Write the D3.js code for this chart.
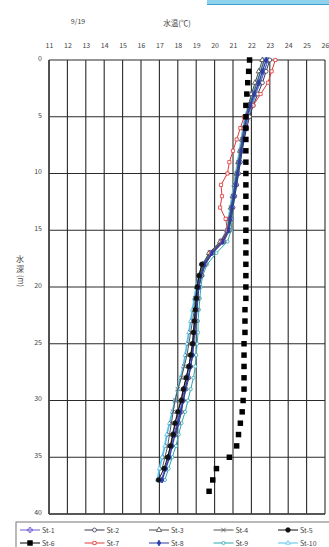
<!DOCTYPE html>
<html><head><meta charset="utf-8">
<script src="https://cdn.jsdelivr.net/npm/d3@7"></script>
<style>
html,body{margin:0;padding:0;background:#fff;}
svg{display:block;font-family:"Noto Sans CJK JP","Noto Sans",sans-serif;}
</style></head>
<body>
<svg id="c" width="329" height="547"></svg>
<script>
// ---- data ----
const xTicks = [11,12,13,14,15,16,17,18,19,20,21,22,23,24,25,26];
const yTicks = [0,5,10,15,20,25,30,35,40];
const seriesNames = ["St-1","St-2","St-3","St-4","St-5","St-6","St-7","St-8","St-9","St-10"];

const d_0_37 = [0,1,2,3,4,5,6,7,8,9,10,11,12,13,14,15,16,17,18,19,20,21,22,23,24,25,26,27,28,29,30,31,32,33,34,35,36,37];
const d_0_38 = [0,1,2,3,4,5,6,7,8,9,10,11,12,13,14,15,16,17,18,19,20,21,22,23,24,25,26,27,28,29,30,31,32,33,34,35,36,37,38];
const d_0_33 = [0,1,2,3,4,5,6,7,8,9,10,11,12,13,14,15,16,17,18,19,20,21,22,23,24,25,26,27,28,29,30,31,32,33];
const d_0_35 = [0,1,2,3,4,5,6,7,8,9,10,11,12,13,14,15,16,17,18,19,20,21,22,23,24,25,26,27,28,29,30,31,32,33,34,35];
const d_0_36 = [0,1,2,3,4,5,6,7,8,9,10,11,12,13,14,15,16,17,18,19,20,21,22,23,24,25,26,27,28,29,30,31,32,33,34,35,36];
const d_18_37 = [18,19,20,21,22,23,24,25,26,27,28,29,30,31,32,33,34,35,36,37];
const d_0_17 = [0,1,2,3,4,5,6,7,8,9,10,11,12,13,14,15,16,17];

const st1 = [22.9,22.7,22.5,22.2,22.0,21.8,21.7,21.6,21.45,21.35,21.25,21.15,21.05,20.95,20.85,20.75,20.4,19.8,19.45,19.25,19.1,19.05,19.0,18.95,18.9,18.85,18.75,18.6,18.5,18.35,18.25,18.1,17.95,17.8,17.65,17.5,17.3,17.1];
const st2 = [23.0,22.8,22.6,22.35,22.1,21.9,21.75,21.6,21.5,21.4,21.3,21.2,21.1,21.0,20.9,20.8,20.5,19.9,19.5,19.3,19.15,19.1,19.05,19.0,18.9,18.85,18.8,18.7,18.6,18.45,18.3,18.2,18.05,17.9];
const st3 = [22.6,22.4,22.2,22.0,21.85,21.7,21.6,21.5,21.4,21.3,21.2,21.1,21.0,20.9,20.8,20.7,20.3,19.7,19.35,19.15,19.05,19.0,18.95,18.9,18.85,18.8,18.7,18.6,18.45,18.3,18.15,18.0,17.85,17.7,17.6,17.45];
const st4 = [22.7,22.5,22.3,22.1,21.9,21.75,21.6,21.5,21.4,21.3,21.2,21.1,21.0,20.9,20.8,20.7,20.35,19.75,19.4,19.2,19.05,18.95,18.9,18.8,18.7,18.6,18.5,18.35,18.2,18.0,17.85,17.75,17.65,17.55,17.45,17.3,17.15];
const st5 = [19.3,19.15,19.05,19.0,18.95,18.9,18.85,18.8,18.7,18.6,18.45,18.3,18.2,18.0,17.85,17.75,17.6,17.45,17.25,16.95];
const st6 = [21.9,21.85,21.8,21.75,21.7,21.7,21.7,21.7,21.7,21.7,21.7,21.7,21.7,21.7,21.7,21.7,21.7,21.7,21.7,21.7,21.7,21.7,21.65,21.65,21.65,21.6,21.6,21.6,21.6,21.6,21.55,21.5,21.4,21.3,21.2,20.8,20.1,19.9,19.7];
const st7 = [23.3,23.1,22.9,22.5,22.1,21.6,21.4,21.2,21.0,20.8,20.7,20.35,20.4,20.3,20.6,20.7,20.4,19.8];
const st8 = [22.8,22.6,22.4,22.15,21.95,21.75,21.65,21.55,21.45,21.35,21.25,21.15,21.05,20.95,20.85,20.75,20.45,19.85,19.45,19.25,19.15,19.05,19.0,18.95,18.9,18.85,18.8,18.7,18.55,18.4,18.3,18.15,18.0,17.85,17.7,17.55,17.35,17.15];
const st9 = [22.9,22.7,22.45,22.25,22.05,21.85,21.7,21.6,21.5,21.4,21.3,21.2,21.1,21.0,20.95,20.9,20.7,20.1,19.6,19.35,19.25,19.2,19.15,19.1,19.1,19.05,19.0,18.95,18.85,18.7,18.55,18.4,18.2,18.05,17.9,17.7,17.5,17.3];
const st10 = [22.7,22.5,22.3,22.05,21.85,21.65,21.55,21.45,21.35,21.25,21.15,21.05,20.95,20.85,20.75,20.65,20.35,19.75,19.35,19.15,19.0,18.9,18.8,18.7,18.6,18.5,18.4,18.3,18.15,18.0,17.85,17.7,17.55,17.4,17.3,17.15,17.0,16.9];

const seriesDepths = [d_0_37,d_0_33,d_0_35,d_0_36,d_18_37,d_0_38,d_0_17,d_0_37,d_0_37,d_0_37];
const seriesTemps = [st1,st2,st3,st4,st5,st6,st7,st8,st9,st10];

// ---- styles ----
const styles = [
  {color:"#6a5ad0", sym:"plus", fill:false, size:14, w:1},
  {color:"#3a3a55", sym:"circle", fill:false, size:12, w:1},
  {color:"#4a4a4a", sym:"triangle", fill:false, size:12, w:1},
  {color:"#555",    sym:"times", fill:false, size:14, w:1},
  {color:"#111",    sym:"circle", fill:true, size:16, w:1},
  {color:"#000",    sym:"square", fill:true, size:30, w:0},
  {color:"#e03a3a", sym:"square", fill:false, size:10, w:1},
  {color:"#2a3ea8", sym:"diamond", fill:true, size:10, w:1.3},
  {color:"#2aa8b0", sym:"circle", fill:false, size:8, w:1},
  {color:"#55c0ee", sym:"triangle", fill:false, size:8, w:1.8}
];

const svg = d3.select("#c");
const x = d3.scaleLinear().domain([11,26]).range([49,325]);
const y = d3.scaleLinear().domain([0,40]).range([60,514]);

// top decorative strip
svg.append("rect").attr("x",207).attr("y",0).attr("width",122).attr("height",4.5)
  .attr("fill","#8fd2ee");
svg.append("line").attr("x1",207).attr("x2",329).attr("y1",4.5).attr("y2",4.5)
  .attr("stroke","#3d9fd0").attr("stroke-width",1);

// titles
svg.append("text").attr("x",78).attr("y",24).attr("font-size",7).attr("fill","#444")
  .attr("text-anchor","middle").text("9/19");
svg.append("text").attr("x",177).attr("y",26).attr("font-size",7.5).attr("fill","#444")
  .attr("text-anchor","middle").text("水温(℃)");

// grid
const g = svg.append("g");
g.selectAll("line.v").data(xTicks).join("line")
  .attr("x1",d=>x(d)).attr("x2",d=>x(d)).attr("y1",y(0)).attr("y2",y(40))
  .attr("stroke","#2a2a2a").attr("stroke-width",1.1);
g.selectAll("line.h").data(yTicks).join("line")
  .attr("x1",x(11)).attr("x2",x(26)).attr("y1",d=>y(d)).attr("y2",d=>y(d))
  .attr("stroke","#2a2a2a").attr("stroke-width",1.1);
g.append("line").attr("x1",x(11)).attr("x2",x(11)).attr("y1",y(0)).attr("y2",y(40))
  .attr("stroke","#444").attr("stroke-width",1.6);
g.append("line").attr("x1",x(11)).attr("x2",x(26)).attr("y1",y(40)).attr("y2",y(40))
  .attr("stroke","#444").attr("stroke-width",1.6);

// axes labels
const xAxis = d3.axisTop(x).tickValues(xTicks).tickSize(0).tickPadding(0).tickFormat(d3.format("d"));
const ax = svg.append("g").attr("transform","translate(0,48)").call(xAxis);
ax.select(".domain").remove();
ax.selectAll("text").attr("font-size",7).attr("fill","#444").attr("font-family","Noto Sans CJK JP, sans-serif");

const yAxis = d3.axisLeft(y).tickValues(yTicks).tickSize(0).tickPadding(0).tickFormat(d3.format("d"));
const ay = svg.append("g").attr("transform","translate(42,-2)").call(yAxis);
ay.select(".domain").remove();
ay.selectAll("text").attr("font-size",7).attr("fill","#444").attr("font-family","Noto Sans CJK JP, sans-serif");

// y title (stacked vertical)
svg.append("text").attr("x",20).attr("y",262).attr("font-size",8).attr("fill","#444")
  .attr("text-anchor","middle").text("水");
svg.append("text").attr("x",20).attr("y",272).attr("font-size",8).attr("fill","#444")
  .attr("text-anchor","middle").text("深");
svg.append("text").attr("transform","translate(17.5,275) rotate(90)").attr("font-size",7.5).attr("fill","#444")
  .attr("text-anchor","start").text("(m)");

// symbol helper
function symType(s){
  if(s==="plus") return d3.symbolCross;
  if(s==="times") return d3.symbolTimes || d3.symbolCross;
  if(s==="triangle") return d3.symbolTriangle;
  if(s==="square") return d3.symbolSquare;
  if(s==="diamond") return d3.symbolDiamond;
  return d3.symbolCircle;
}
function drawSym(sel, st){
  const gen = d3.symbol().type(symType(st.sym)).size(st.size);
  sel.attr("d",gen)
    .attr("fill", st.fill ? st.color : (st.sym==="plus"||st.sym==="times" ? "none" : "#fff"))
    .attr("stroke", st.color).attr("stroke-width", st.sym==="square"&&st.fill?0:0.8);
}

// series
const line = d3.line().x(d=>x(d[1])).y(d=>y(d[0]));
const order = [9,8,0,1,2,3,6,7,4,5];
order.forEach(i=>{
  const st = styles[i];
  const pts = seriesDepths[i].map((dd,k)=>[dd, seriesTemps[i][k]]);
  const sg = svg.append("g");
  if(st.w>0) sg.append("path").datum(pts).attr("d",line).attr("fill","none")
    .attr("stroke",st.color).attr("stroke-width",st.w);
  sg.selectAll("path.m").data(pts).join("path").attr("class","m")
    .attr("transform",d=>`translate(${x(d[1])},${y(d[0])})`)
    .call(drawSym, st);
});

// legend
const lg = svg.append("g");
lg.append("rect").attr("x",16).attr("y",522).attr("width",330).attr("height",30)
  .attr("fill","#fff").attr("stroke","#777").attr("stroke-width",1);
seriesNames.forEach((n,i)=>{
  const col = i%5, row = Math.floor(i/5);
  const lx = 20 + col*64.5, ly = 530 + row*13;
  const st = styles[i];
  lg.append("line").attr("x1",lx).attr("x2",lx+20).attr("y1",ly).attr("y2",ly)
    .attr("stroke",st.color).attr("stroke-width",1);
  lg.append("path").attr("transform",`translate(${lx+10},${ly})`).call(drawSym, st);
  lg.append("text").attr("x",lx+22).attr("y",ly+2.5).attr("font-size",7).attr("fill","#444").text(n);
});
</script>
</body></html>
